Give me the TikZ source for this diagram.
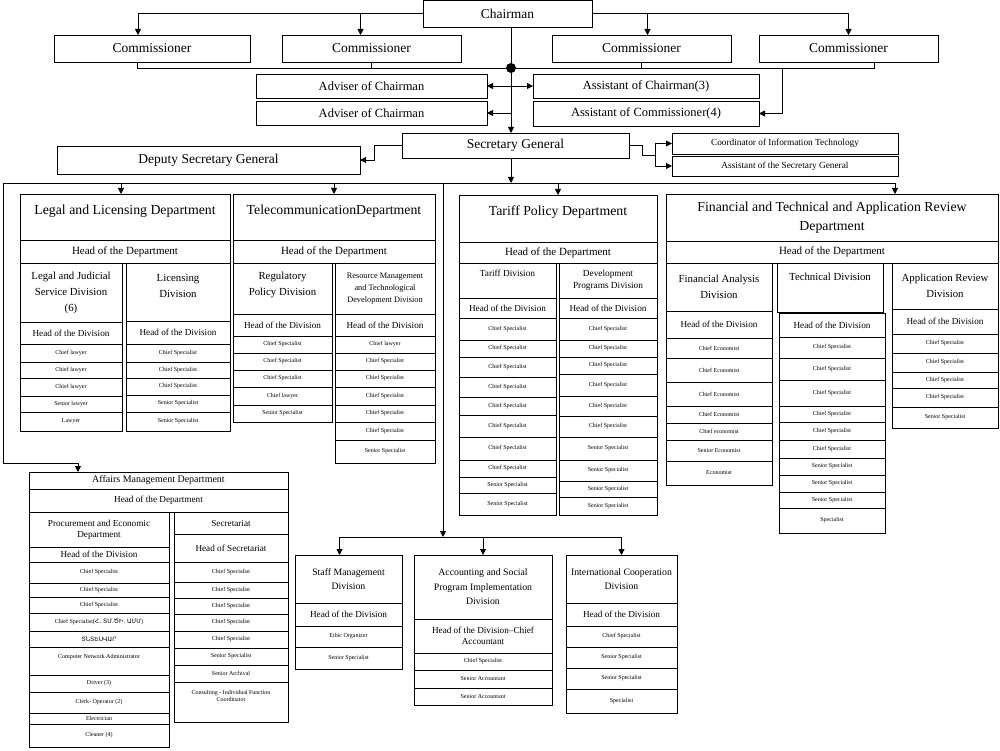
\documentclass[tikz,border=0pt]{standalone}
\usepackage{fontspec}
\setmainfont{Liberation Serif}
\newfontfamily\armfont{DejaVu Sans}
\usetikzlibrary{arrows.meta}

\newcommand{\fbig}{\fontsize{13.5}{16}\selectfont}
\newcommand{\fadv}{\fontsize{12.5}{15}\selectfont}
\newcommand{\fsmall}{\fontsize{9.3}{11}\selectfont}
\newcommand{\fdept}{\fontsize{13.8}{19}\selectfont}
\newcommand{\fhdept}{\fontsize{11}{13}\selectfont}
\newcommand{\fdiv}{\fontsize{10.8}{16}\selectfont}
\newcommand{\fdivs}{\fontsize{9.3}{12}\selectfont}
\newcommand{\fres}{\fontsize{8.3}{12}\selectfont}
\newcommand{\fhdiv}{\fontsize{9.2}{11}\selectfont}
\newcommand{\fcell}{\fontsize{6}{7}\selectfont}
\newcommand{\faff}{\fontsize{10}{12}\selectfont}
\newcommand{\flow}{\fontsize{9.8}{14.5}\selectfont}

\tikzset{
  box/.style={draw, line width=0.75pt, inner sep=0pt, outer sep=0pt, align=center},
  line/.style={line width=0.9pt},
  arr/.style={line width=0.9pt, -{Triangle[length=6pt,width=6pt]}}
}

% box from corner (x1,y1) to corner (x2,y2), pixel units
\newcommand{\orgbox}[7]{\node[box, font=#6, minimum width={(#4-#2)*1pt}, minimum height={(#5-#3)*1pt}] (#1) at ({(#2+#4)/2},{(#3+#5)/2}) {#7};}
% column of cells
\newcommand{\orgcol}[5]{\foreach \ya/\yb/\txt [count=\i] in {#5} {\orgbox{#1\i}{#2}{\ya}{#3}{\yb}{#4}{\txt}}}

\begin{document}
\begin{tikzpicture}[x=1pt, y=-1pt]
\useasboundingbox (0,0) rectangle (1000,751);

\orgbox{chair}{423}{0}{592}{27}{\fbig}{Chairman}
\orgbox{com1}{54}{35}{250}{62}{\fbig}{Commissioner}
\orgbox{com2}{282}{35}{461}{62}{\fbig}{Commissioner}
\orgbox{com3}{552}{35}{731}{62}{\fbig}{Commissioner}
\orgbox{com4}{759}{35}{938}{62}{\fbig}{Commissioner}
\orgbox{adv1}{256}{74}{487}{98}{\fadv}{Adviser of Chairman}
\orgbox{adv2}{256}{101}{487}{125}{\fadv}{Adviser of Chairman}
\orgbox{asch}{533}{74}{759}{98}{\fadv}{Assistant of Chairman(3)}
\orgbox{ascm}{533}{101}{759}{126}{\fadv}{Assistant of Commissioner(4)}
\orgbox{sg}{402}{133}{629}{158}{\fbig}{Secretary General}
\orgbox{dep}{57}{146}{360}{174}{\fbig}{Deputy Secretary General}
\orgbox{cit}{672}{133}{898}{154}{\fsmall}{Coordinator of Information Technology}
\orgbox{asg}{672}{156}{898}{176}{\fsmall}{Assistant of the Secretary General}

\orgbox{legal}{20}{194}{230}{240}{\fdept}{Legal and Licensing Department\\[-4pt]\mbox{}}
\orgbox{legalhd}{20}{240}{230}{263}{\fhdept}{Head of the Department}
\orgbox{ljs}{20}{263}{122}{322}{\fdiv}{Legal and Judicial\\Service Division\\(6)}
\orgbox{ljshd}{20}{322}{122}{344}{\fhdiv}{Head of the Division}
\orgcol{ljs}{20}{122}{\fcell}{344/362/Chief lawyer, 362/378/Chief lawyer, 378/396/Chief lawyer, 396/412/Senior lawyer, 412/431/Lawyer}
\orgbox{lic}{126}{263}{230}{321}{\fdiv}{Licensing\\Division\\[-4pt]\mbox{}}
\orgbox{lichd}{126}{321}{230}{344}{\fhdiv}{Head of the Division}
\orgcol{lic}{126}{230}{\fcell}{344/362/Chief Specialist, 362/378/Chief Specialist, 378/395/Chief Specialist, 395/412/Senior Specialist, 412/431/Senior Specialist}

\orgbox{tel}{233}{194}{435}{240}{\fdept}{TelecommunicationDepartment\\[-4pt]\mbox{}}
\orgbox{telhd}{233}{240}{435}{263}{\fhdept}{Head of the Department}
\orgbox{reg}{233}{263}{332}{314}{\fdiv}{Regulatory\\Policy Division\\[-6pt]\mbox{}}
\orgbox{reghd}{233}{314}{332}{336}{\fhdiv}{Head of the Division}
\orgcol{reg}{233}{332}{\fcell}{336/353/Chief Specialist, 353/370/Chief Specialist, 370/387/Chief Specialist, 387/405/Chief lawyer, 405/422/Senior Specialist}
\orgbox{res}{335}{263}{435}{314}{\fres}{Resource Management\\and Technological\\Development Division}
\orgbox{reshd}{335}{314}{435}{336}{\fhdiv}{Head of the Division}
\orgcol{res}{335}{435}{\fcell}{336/353/Chief lawyer, 353/370/Chief Specialist, 370/387/Chief Specialist, 387/405/Chief Specialist, 405/422/Chief Specialist, 422/440/Chief Specialist, 440/463/Senior Specialist}

\orgbox{tar}{459}{195}{657}{242}{\fdept}{Tariff Policy Department\\[-4pt]\mbox{}}
\orgbox{tarhd}{459}{242}{657}{263}{\fhdept}{Head of the Department}
\orgbox{tdiv}{459}{263}{556}{298}{\fdivs}{Tariff Division\\[2pt]\mbox{}}
\orgbox{tdivhd}{459}{298}{556}{318}{\fhdiv}{Head of the Division}
\orgcol{tdiv}{459}{556}{\fcell}{318/340/Chief Specialist, 340/357/Chief Specialist, 357/377/Chief Specialist, 377/397/Chief Specialist, 397/415/Chief Specialist, 415/437/Chief Specialist, 437/460/Chief Specialist, 460/477/Chief Specialist, 477/493/Senior Specialist, 493/515/Senior Specialist}
\orgbox{dev}{559}{263}{657}{298}{\fdivs}{Development\\Programs Division}
\orgbox{devhd}{559}{298}{657}{318}{\fhdiv}{Head of the Division}
\orgcol{dev}{559}{657}{\fcell}{318/340/Chief Specialist, 340/357/Chief Specialist, 357/374/Chief Specialist, 374/396/Chief Specialist, 396/416/Chief Specialist, 416/437/Chief Specialist, 437/460/Senior Specialist, 460/481/Senior Specialist, 481/497/Senior Specialist, 497/515/Senior Specialist}

\orgbox{fin}{666}{194}{998}{241}{\fdept}{Financial and Technical and Application Review\\Department}
\orgbox{finhd}{666}{241}{998}{263}{\fhdept}{Head of the Department}
\orgbox{fan}{666}{263}{772}{311}{\fdiv}{Financial Analysis\\Division}
\orgbox{fanhd}{666}{311}{772}{338}{\fhdiv}{Head of the Division}
\orgcol{fan}{666}{772}{\fcell}{338/358/Chief Economist, 358/382/Chief Economist, 382/406/Chief Economist, 406/423/Chief Economist, 423/440/Chief economist, 440/461/Senior Economist, 461/485/Economist}
\orgbox{tech}{777}{263}{883}{312}{\fdiv}{Technical Division\\[6pt]\mbox{}}
\orgbox{techhd}{779}{313}{885}{337}{\fhdiv}{Head of the Division}
\orgcol{tech}{779}{885}{\fcell}{337/358/Chief Specialist, 358/380/Chief Specialist, 380/406/Chief Specialist, 406/422/Chief Specialist, 422/440/Chief Specialist, 440/458/Chief Specialist, 458/475/Senior Specialist, 475/492/Senior Specialist, 492/508/Senior Specialist, 508/533/Specialist}
\orgbox{app}{892}{263}{998}{309}{\fdiv}{Application Review\\Division}
\orgbox{apphd}{892}{309}{998}{334}{\fhdiv}{Head of the Division}
\orgcol{app}{892}{998}{\fcell}{334/353/Chief Specialist, 353/372/Chief Specialist, 372/388/Chief Specialist, 388/407/Chief Specialist, 407/428/Senior Specialist}

\orgbox{aff}{29}{472}{288}{489}{\faff}{Affairs Management Department}
\orgbox{affhd}{29}{489}{288}{512}{\fhdiv}{Head of the Department}
\orgbox{proc}{29}{512}{169}{547}{\fhdiv}{Procurement and Economic\\Department}
\orgbox{prochd}{29}{547}{169}{562}{\fhdiv}{Head of the Division}
\orgcol{proc}{29}{169}{\fcell}{562/583/Chief Specialist, 583/597/Chief Specialist, 597/613/Chief Specialist, 613/631/{Chief Specialist({\armfont Հ. ՏՄ.ԾԻ. ԱՄՄ})}, 631/647/{{\armfont ՏՆՏԵՍՎԱՐ}}, 647/675/{Computer Network Administrator\\[2pt]\mbox{}}, 675/692/Driver (3), 692/713/Clerk- Operator (2), 713/724/Electrician, 724/747/Cleaner (4)}
\orgbox{secr}{174}{512}{288}{534}{\fhdiv}{Secretariat}
\orgbox{secrhd}{174}{534}{288}{562}{\fhdiv}{Head of Secretariat}
\orgcol{secr}{174}{288}{\fcell}{562/582/Chief Specialist, 582/598/Chief Specialist, 598/614/Chief Specialist, 614/631/Chief Specialist, 631/648/Chief Specialist, 648/665/Senior Specialist, 665/682/Senior Archival, 682/722/{Consulting - Individual Function\\Coordinator\\[5pt]\mbox{}}}

\orgbox{staff}{295}{555}{402}{603}{\flow}{Staff Management\\Division}
\orgbox{staffhd}{295}{603}{402}{626}{\fhdiv}{Head of the Division}
\orgcol{staff}{295}{402}{\fcell}{626/647/Ethic Organizer, 647/669/Senior Specialist}
\orgbox{acc}{414}{555}{552}{619}{\flow}{Accounting and Social\\Program Implementation\\Division}
\orgbox{acchd}{414}{619}{552}{653}{\fhdiv}{Head of the Division--Chief\\Accountant}
\orgcol{acc}{414}{552}{\fcell}{653/670/Chief Specialist, 670/688/Senior Accountant, 688/705/Senior Accountant}
\orgbox{intl}{566}{555}{677}{603}{\flow}{International Cooperation\\Division}
\orgbox{intlhd}{566}{603}{677}{626}{\fhdiv}{Head of the Division}
\orgcol{intl}{566}{677}{\fcell}{626/647/Chief Specialist, 647/668/Senior Specialist, 668/689/Senior Specialist, 689/713/Specialist}

\coordinate (hub) at (511,68);
\coordinate (cj) at (782,68);
\coordinate (busl) at (3,183);
\coordinate (busm) at (443,183);
\coordinate (busr) at (895,183);
\coordinate (affj) at (78,463);
\coordinate (lowbus) at (443,537);
\coordinate (c1top) at ([xshift=-14pt]com1.north);
\coordinate (c2top) at ([xshift=-11pt]com2.north);
\coordinate (c3top) at ([xshift=6pt]com3.north);
\coordinate (c1bot) at ([xshift=-15pt]com1.south);
\coordinate (c4bot) at ([xshift=26pt]com4.south);
\coordinate (legaltop) at ([xshift=-4pt]legal.north);
\coordinate (stafftop) at ([xshift=-9pt]staff.north);

\draw[arr] (chair.west) -| (c1top);
\draw[arr] (chair.west) -| (c2top);
\draw[arr] (chair.east) -| (c3top);
\draw[arr] (chair.east) -| (com4.north);
\draw[line] (c1bot) |- (hub);
\draw[line] (com2.south) -- (com2.south |- hub);
\draw[line] (com3.south) -- (com3.south |- hub);
\draw[line] (c4bot) |- (hub);
\draw[arr] (cj) |- (ascm.east);
\draw[arr] (chair.south -| hub) -- (sg.north -| hub);
\fill (hub) circle (5pt);
\draw[arr] (hub |- adv1.east) -- (adv1.east);
\draw[arr] (hub |- adv2.east) -- (adv2.east);
\draw[arr] (hub |- asch.west) -- (asch.west);

\draw[arr] (sg.west) -- ++(-28,0) |- (dep.east);
\draw[line] (sg.east) -- ++(13,0) |- ++(13,10) coordinate (sgb);
\draw[arr] (sgb) |- (cit.west);
\draw[arr] (sgb) |- (asg.west);

\draw[arr] (sg.south -| hub) -- (hub |- busl);
\draw[line] (busl) -- (busr);
\draw[arr] (legaltop |- busl) -- (legaltop);
\draw[arr] (tel.north |- busl) -- (tel.north);
\draw[arr] (tar.north |- busl) -- (tar.north);
\draw[arr] (busr) -- (busr |- fin.north);
\draw[arr] (busl) |- (affj) -- (affj |- aff.north);

\draw[arr] (busm) -- (lowbus);
\draw[line] (stafftop |- lowbus) -- (intl.north |- lowbus);
\draw[arr] (stafftop |- lowbus) -- (stafftop);
\draw[arr] (acc.north |- lowbus) -- (acc.north);
\draw[arr] (intl.north |- lowbus) -- (intl.north);
\end{tikzpicture}
\end{document}
